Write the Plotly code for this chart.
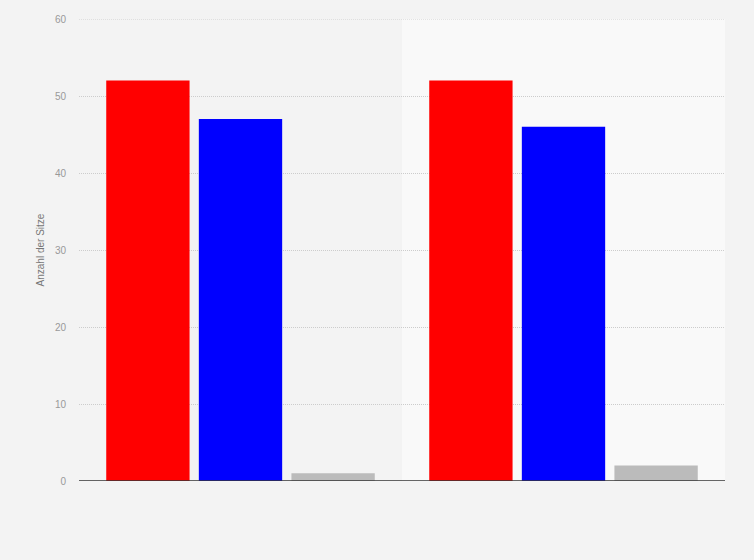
import plotly.graph_objects as go

# Kategorien (ohne sichtbare Beschriftung) und Sitze je Partei
categories = ["Wahl 1", "Wahl 2"]
seats_red = [52, 52]
seats_blue = [47, 46]
seats_other = [1, 2]

series = [
    ("Rot", seats_red, "#ff0000"),
    ("Blau", seats_blue, "#0000ff"),
    ("Sonstige", seats_other, "#bbbbbb"),
]

fig = go.Figure()
for name, vals, color in series:
    fig.add_trace(
        go.Bar(
            x=categories,
            y=vals,
            name=name,
            marker=dict(color=color, line=dict(width=0)),
            hoverinfo="y",
        )
    )

# heller Hintergrundstreifen für die zweite Kategorie
fig.add_shape(
    type="rect",
    xref="x", yref="paper",
    x0=0.5, x1=1.5, y0=0, y1=1,
    fillcolor="#f9f9f9",
    line=dict(width=0),
    layer="below",
)

# oberste Gitterlinie (bei 60) wird sonst nicht gezeichnet
fig.add_shape(
    type="line",
    xref="paper", yref="y",
    x0=0, x1=1, y0=60, y1=60,
    line=dict(color="#cccccc", width=1, dash="1px,1px"),
)

fig.update_layout(
    width=754,
    height=560,
    margin=dict(l=79, r=29, t=19, b=79),
    paper_bgcolor="#f3f3f3",
    plot_bgcolor="#f3f3f3",
    barmode="group",
    bargap=0.14,
    bargroupgap=0.1,
    showlegend=False,
    font=dict(family="Arial, Liberation Sans, sans-serif", size=10, color="#999999"),
    xaxis=dict(
        showticklabels=False,
        showgrid=False,
        zeroline=False,
        showline=False,
        ticks="",
        range=[-0.5, 1.5],
    ),
    yaxis=dict(
        title=dict(text="Anzahl der Sitze", font=dict(size=10, color="#777777"), standoff=8),
        range=[0, 60],
        dtick=10,
        showgrid=True,
        gridcolor="#cccccc",
        griddash="1px,1px",
        gridwidth=1,
        zeroline=False,
        showline=False,
        ticks="",
        ticklabelstandoff=12,
        tickfont=dict(size=10, color="#999999"),
    ),
)

# Grundlinie
fig.add_shape(
    type="line",
    xref="paper", yref="y",
    x0=0, x1=1, y0=0, y1=0,
    line=dict(color="#333333", width=1.5),
)

# Seitenrand des Browsers entfernen, damit die Grafik bündig sitzt
fig.write_html(
    "out.html",
    config={"displayModeBar": False},
    post_script="document.body.style.margin='0';document.body.style.background='#f3f3f3';",
)
